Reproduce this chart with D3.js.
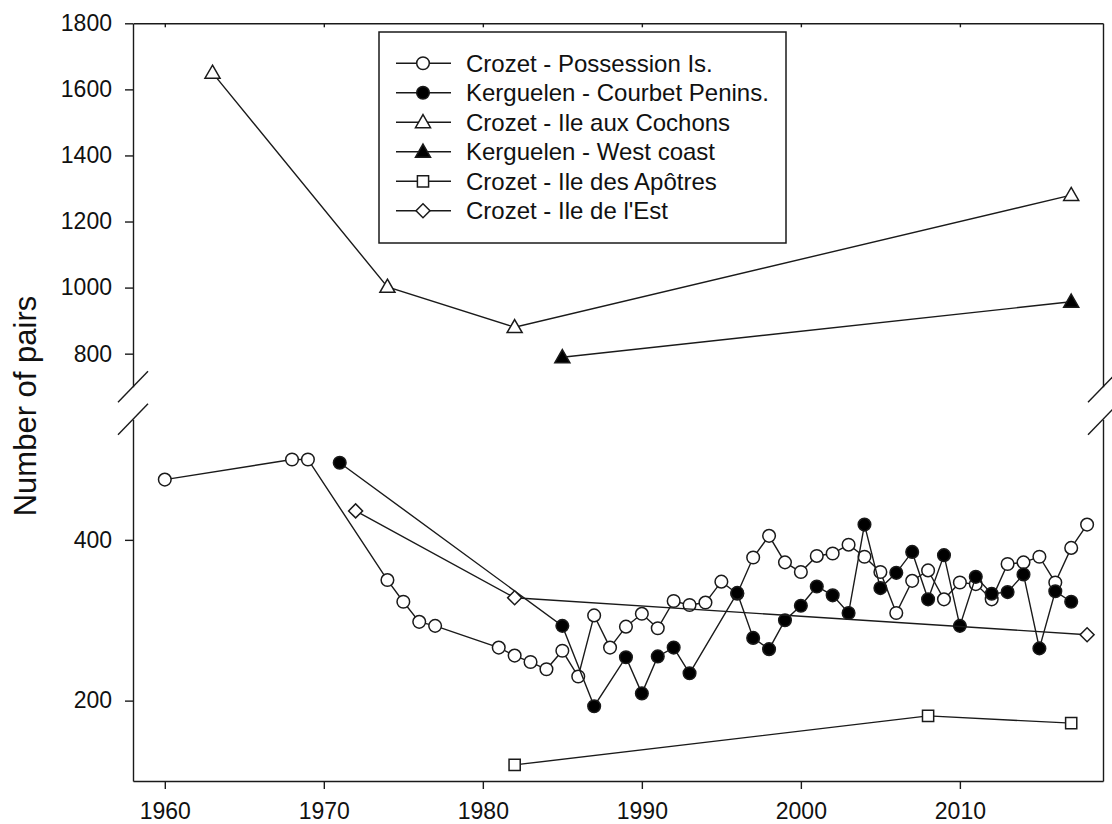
<!DOCTYPE html>
<html>
<head>
<meta charset="utf-8">
<script src="https://cdn.jsdelivr.net/npm/d3@7"></script>
<style>
  body { margin: 0; background: #fff; }
  svg { font-family: "Liberation Sans", Arial, sans-serif; }
</style>
</head>
<body>
<div id="chart"></div>
<script>
// data
let possYears = [1960, 1968, 1969, 1974, 1975, 1976, 1977, 1981, 1982, 1983, 1984, 1985, 1986, 1987, 1988, 1989, 1990, 1991, 1992, 1993, 1994, 1995, 1996, 1997, 1998, 1999, 2000, 2001, 2002, 2003, 2004, 2005, 2006, 2007, 2008, 2009, 2010, 2011, 2012, 2013, 2014, 2015, 2016, 2017, 2018]
let possValues = [475, 500, 500, 350, 323, 298, 293, 266, 256, 248, 239, 262, 230, 306, 266, 292, 308, 290, 324, 319, 322, 348, 333, 378, 405, 372, 360, 380, 383, 394, 379, 360, 309, 349, 362, 326, 347, 345, 326, 370, 372, 379, 347, 390, 419]

let courYears = [1971, 1985, 1987, 1989, 1990, 1991, 1992, 1993, 1996, 1997, 1998, 1999, 2000, 2001, 2002, 2003, 2004, 2005, 2006, 2007, 2008, 2009, 2010, 2011, 2012, 2013, 2014, 2015, 2016, 2017]
let courValues = [496, 293, 193, 254, 209, 255, 266, 234, 334, 278, 264, 300, 318, 342, 331, 309, 419, 340, 359, 385, 326, 381, 293, 354, 333, 335, 357, 265, 336, 323]

let cochYears = [1963, 1974, 1982, 2017]
let cochValues = [1650, 1002, 880, 1280]

let westYears = [1985, 2017]
let westValues = [789, 957]

let apoYears = [1982, 2008, 2017]
let apoValues = [120, 181, 172]

let estYears = [1972, 1982, 2018]
let estValues = [436, 328, 282]

let seriesNames = ['Crozet - Possession Is.', 'Kerguelen - Courbet Penins.', 'Crozet - Ile aux Cochons',
  'Kerguelen - West coast', 'Crozet - Ile des Apôtres', "Crozet - Ile de l'Est"]

let upperTicks = [800, 1000, 1200, 1400, 1600, 1800]
let lowerTicks = [200, 400]
let xTicks = [1960, 1970, 1980, 1990, 2000, 2010]

let series = [
  {name: seriesNames[0], years: possYears, values: possValues, part: 'lo', shape: 'circle', fill: '#fff'},
  {name: seriesNames[1], years: courYears, values: courValues, part: 'lo', shape: 'circle', fill: '#000'},
  {name: seriesNames[2], years: cochYears, values: cochValues, part: 'up', shape: 'triangle', fill: '#fff'},
  {name: seriesNames[3], years: westYears, values: westValues, part: 'up', shape: 'triangle', fill: '#000'},
  {name: seriesNames[4], years: apoYears, values: apoValues, part: 'lo', shape: 'square', fill: '#fff'},
  {name: seriesNames[5], years: estYears, values: estValues, part: 'lo', shape: 'diamond', fill: '#fff'}
]

let W = 1112, H = 824
let left = 133, right = 1103
let upTop = 23.3, upBot = 386.7
let loTop = 419.3, loBot = 781

let svg = d3.select('div#chart')
  .append('svg')
    .attr('width', W)
    .attr('height', H)

let x = d3.scaleLinear().domain([1958, 2019]).range([left, right])
let yUp = d3.scaleLinear().domain([700, 1800]).range([upBot, upTop])
let yLo = d3.scaleLinear().domain([100, 550]).range([loBot, loTop])

let ink = '#1a1a1a'
let fmt = d3.format('d')

// axes
function styleAxis(g) {
  g.attr('font-family', '"Liberation Sans", Arial, sans-serif')
  g.selectAll('path, line').attr('stroke', ink).attr('stroke-width', 1.4)
  g.selectAll('text').attr('fill', '#111').attr('font-size', 23)
}

svg.append('g')
  .attr('transform', `translate(${left},0)`)
  .call(d3.axisLeft(yUp).tickValues(upperTicks).tickFormat(fmt).tickSize(8).tickSizeOuter(0).tickPadding(13))
  .call(styleAxis)

svg.append('g')
  .attr('transform', `translate(${left},0)`)
  .call(d3.axisLeft(yLo).tickValues(lowerTicks).tickFormat(fmt).tickSize(8).tickSizeOuter(0).tickPadding(13))
  .call(styleAxis)

svg.append('g')
  .attr('transform', `translate(${right},0)`)
  .call(d3.axisRight(yUp).tickValues([]).tickSizeOuter(0))
  .call(styleAxis)

svg.append('g')
  .attr('transform', `translate(${right},0)`)
  .call(d3.axisRight(yLo).tickValues([]).tickSizeOuter(0))
  .call(styleAxis)

svg.append('g')
  .attr('transform', `translate(0,${loBot})`)
  .call(d3.axisBottom(x).tickValues(xTicks).tickFormat(fmt).tickSize(8).tickSizeOuter(0).tickPadding(14))
  .call(styleAxis)

svg.append('g')
  .attr('transform', `translate(0,${upTop})`)
  .call(d3.axisBottom(x).tickValues(xTicks).tickFormat('').tickSize(4).tickSizeOuter(0))
  .call(styleAxis)

// axis break marks
let breaks = [[left, upBot], [left, loTop], [right, upBot], [right, loTop]]
svg.append('g')
  .attr('stroke', ink)
  .attr('stroke-width', 1.4)
  .selectAll('line')
  .data(breaks)
  .enter().append('line')
  .attr('x1', d => d[0] - 15)
  .attr('y1', d => d[1] + 15.5)
  .attr('x2', d => d[0] + 15)
  .attr('y2', d => d[1] - 15.5)

// y label
svg.append('text')
  .attr('transform', 'translate(36,406) rotate(-90)')
  .attr('text-anchor', 'middle')
  .attr('font-size', 31)
  .attr('fill', '#111')
  .text('Number of pairs')

function marker(shape) {
  if (shape === 'circle') return d3.symbol(d3.symbolCircle, 125)()
  if (shape === 'triangle') return d3.symbol(d3.symbolTriangle, 98)()
  if (shape === 'square') return d3.symbol(d3.symbolSquare, 125)()
  return d3.symbol(d3.symbolSquare, 98)()
}

function markerTransform(shape, px, py) {
  if (shape === 'diamond') return `translate(${px},${py}) rotate(45)`
  if (shape === 'triangle') return `translate(${px},${py + 1})`
  return `translate(${px},${py})`
}

// series
series.forEach(s => {
  let y = s.part === 'up' ? yUp : yLo
  let pts = s.years.map((yr, i) => ({year: yr, value: s.values[i]}))
  let g = svg.append('g')

  g.append('path')
    .datum(pts)
    .attr('fill', 'none')
    .attr('stroke', ink)
    .attr('stroke-width', 1.4)
    .attr('d', d3.line().x(d => x(d.year)).y(d => y(d.value)))

  g.selectAll('path.pt')
    .data(pts)
    .enter().append('path')
    .attr('class', 'pt')
    .attr('d', marker(s.shape))
    .attr('transform', d => markerTransform(s.shape, x(d.year), y(d.value)))
    .attr('fill', s.fill)
    .attr('stroke', ink)
    .attr('stroke-width', 1.5)
})

// legend
let legend = svg.append('g')
legend.append('rect')
  .attr('x', 379)
  .attr('y', 32)
  .attr('width', 407)
  .attr('height', 211)
  .attr('fill', '#fff')
  .attr('stroke', ink)
  .attr('stroke-width', 1.5)

let rows = legend.selectAll('g.row')
  .data(series)
  .enter().append('g')
  .attr('class', 'row')
  .attr('transform', (d, i) => `translate(0,${63.3 + i * 29.5})`)

rows.append('line')
  .attr('x1', 396)
  .attr('x2', 451)
  .attr('stroke', ink)
  .attr('stroke-width', 1.4)

rows.append('path')
  .attr('d', d => marker(d.shape))
  .attr('transform', d => markerTransform(d.shape, 423, 0))
  .attr('fill', d => d.fill)
  .attr('stroke', ink)
  .attr('stroke-width', 1.5)

rows.append('text')
  .attr('x', 466)
  .attr('dy', '0.36em')
  .attr('font-size', 24)
  .attr('fill', '#111')
  .text(d => d.name)
</script>
</body>
</html>
